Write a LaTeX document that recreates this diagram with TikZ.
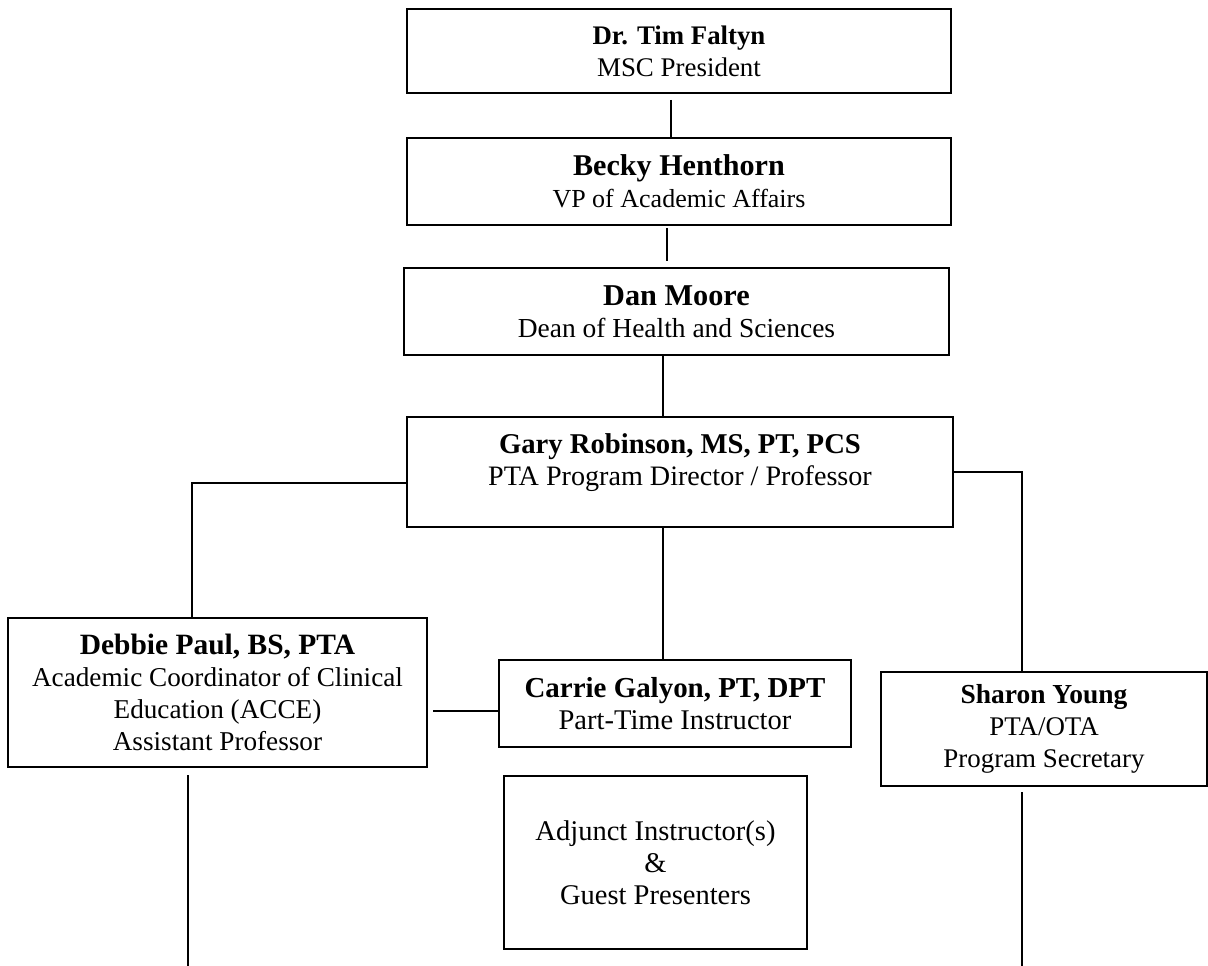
\documentclass[tikz,border=0pt]{standalone}
\usepackage{fontspec}
\setmainfont{Liberation Serif}
\newcommand{\who}[2]{{\fontsize{#1}{24pt}\selectfont\bfseries #2}}
\newcommand{\fsz}[1]{\fontsize{#1}{24pt}\selectfont}

\begin{document}
\begin{tikzpicture}[x=0.75pt,y=-0.75pt,
    box/.style={draw=black,line width=1.3pt,inner sep=0pt,outer sep=0pt,align=center},
    link/.style={draw=black,line width=1.3pt}]
    \useasboundingbox (0,0) rectangle (1208,966);
    % top of the chain
    \node[box,minimum width=408pt,minimum height=63pt,font=\fsz{20.2pt}] (tim) at (679,51)
        {\who{20.1pt}{Dr. Tim Faltyn}\\MSC President};
    \node[box,minimum width=408pt,minimum height=65.25pt,font=\fsz{19.5pt}] (becky) at (679,181.5)
        {\who{22.6pt}{Becky Henthorn}\\VP of Academic Affairs};
    \node[box,minimum width=408.75pt,minimum height=65.25pt,font=\fsz{20.6pt}] (dan) at (676.5,311.5)
        {\who{22.7pt}{Dan Moore}\\Dean of Health and Sciences};
    \node[box,minimum width=409.5pt,minimum height=82.5pt,font=\fsz{21.1pt}] (gary) at (680,472)
        {\who{21.5pt}{Gary Robinson, MS, PT, PCS}\\PTA Program Director / Professor\rule[-18pt]{0pt}{18pt}};
    % program staff
    \node[box,minimum width=314.25pt,minimum height=111.75pt,font=\fsz{20.4pt}] (debbie) at (217.5,692.5)
        {\who{22.1pt}{Debbie Paul, BS, PTA}\\Academic Coordinator of Clinical\\Education (ACCE)\\Assistant Professor};
    \node[box,minimum width=264pt,minimum height=65.25pt,font=\fsz{21.4pt}] (carrie) at (675,703.5)
        {\who{21.7pt}{Carrie Galyon, PT, DPT}\\Part-Time Instructor};
    \node[box,minimum width=227.25pt,minimum height=129.75pt,font=\fsz{21.4pt}] (adjunct) at (655.5,862.5)
        {Adjunct Instructor(s)\\\&\\Guest Presenters};
    \node[box,minimum width=244.5pt,minimum height=85.5pt,font=\fsz{20.2pt}] (sharon) at (1044,729)
        {\who{20.6pt}{Sharon Young}\\PTA/OTA\\Program Secretary};
    \coordinate (debbieEnd) at (188,966);
    \coordinate (sharonEnd) at (1022,966);
    % connectors
    \draw[link,shorten <=5.25pt] ([xshift=-6pt]tim.south) -- ([xshift=-6pt]tim.south |- becky.north);
    \draw[link,shorten <=2.25pt,shorten >=5.25pt] ([xshift=-9pt]becky.south) -- ([xshift=-9pt]becky.south |- dan.north);
    \draw[link] ([xshift=-10.1pt]dan.south) -- ([xshift=-10.1pt]dan.south |- gary.north);
    \draw[link] ([yshift=-8.25pt]gary.west) -| ([xshift=-19.1pt]debbie.north);
    \draw[link] ([xshift=-12.75pt]gary.south) -- ([xshift=-12.75pt]gary.south |- carrie.north);
    \draw[link] (gary.east) -| ([xshift=-16.5pt]sharon.north);
    \draw[link,shorten >=4.5pt] ([yshift=-5.6pt]carrie.west) -- ([yshift=-5.6pt]carrie.west -| debbie.east);
    \draw[link,shorten <=6pt] ([xshift=-22.1pt]debbie.south) -- (debbieEnd);
    \draw[link,shorten <=4.5pt] ([xshift=-16.5pt]sharon.south) -- (sharonEnd);
\end{tikzpicture}
\end{document}
